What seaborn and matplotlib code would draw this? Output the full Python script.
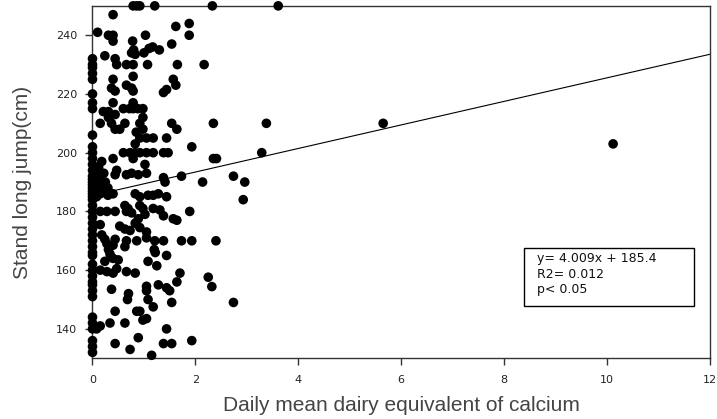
import matplotlib
matplotlib.use("Agg")
import matplotlib.pyplot as plt
import seaborn as sns
import numpy as np
import pandas as pd
from matplotlib.patches import Rectangle

# ---- data ----
zero_stack_y = [232, 230, 229, 227, 225, 220, 217, 215, 206, 202, 200, 198, 196, 194,
                192, 191, 190, 189, 188, 187, 186, 185, 184, 182, 180, 178, 176, 174,
                172, 170, 168, 166, 165, 162, 160, 158, 156, 155, 153, 151, 144, 142,
                140, 136, 134, 132]

other_x = [0.05, 0.08, 0.10, 0.12, 0.15, 0.18, 0.20, 0.25, 0.30, 0.08, 0.30, 0.12, 0.22,
           0.79, 0.86, 0.92, 1.21, 2.33, 3.61,
           0.40, 0.10, 0.31, 0.40, 0.40, 0.78, 1.03, 1.62, 1.88, 1.88, 1.54,
           1.17, 1.30, 1.00, 1.10,
           0.76, 0.80, 0.83, 0.24, 0.44, 0.47, 0.66, 0.79, 1.07, 1.65, 2.17,
           0.40, 0.37, 0.44, 0.66, 0.76, 0.79, 0.79, 1.57, 1.62, 1.38, 1.44,
           0.40, 0.31, 0.44, 0.60, 0.72, 0.79, 0.88, 0.98, 0.79, 0.79,
           0.15, 0.21, 0.31, 0.37, 0.44, 0.53, 0.63, 0.98, 0.92, 0.98, 0.85, 0.92, 1.18,
           1.05, 1.54, 1.64, 1.44, 2.35, 3.38,
           1.93, 0.83,
           0.60, 0.73, 0.83, 0.92, 1.05, 1.18, 1.38, 1.47,
           0.79, 1.02, 0.40, 0.18, 2.35, 2.41, 3.29,
           1.73, 1.38, 1.41, 0.47, 0.44, 0.66, 0.76, 0.89, 1.05, 2.74, 2.14, 2.96, 2.93,
           0.83, 0.92, 1.08, 1.18, 1.28, 1.44, 0.40,
           0.63, 0.69, 0.66, 0.76,
           0.92, 0.98, 1.02, 1.18, 1.31, 1.38,
           0.15, 0.28, 0.44,
           1.57, 1.64, 1.89,
           0.15, 0.53, 0.63, 0.73, 0.83, 0.89, 0.92, 1.05, 1.05,
           0.18, 0.24, 0.28, 0.31, 0.34, 0.40, 0.44,
           0.66, 0.63, 0.86, 1.21, 1.38, 1.73, 1.93, 2.40,
           1.20, 1.22, 1.44,
           0.24, 0.40, 0.50,
           1.08, 1.25,
           0.15, 0.28, 0.40, 0.47,
           0.66, 0.83, 1.70, 2.25, 2.32, 1.64,
           1.28, 1.44, 1.50,
           0.37, 0.70, 0.68,
           1.05, 1.05, 1.08, 1.18, 1.54, 2.74,
           0.44, 0.86, 0.92,
           0.98, 1.05,
           0.34, 0.63, 0.15, 0.08, 1.44,
           0.44, 0.89, 0.73, 1.15, 1.38, 1.54, 1.93,
           5.65, 10.12]

other_y = [193, 190, 188, 191, 186, 189, 187, 190, 188, 185, 185.5, 195, 193,
           250, 250, 250, 250, 250, 250,
           247, 241, 240, 240, 238, 238, 240, 243, 244, 240, 237,
           236, 235, 234, 235.5,
           234, 235, 233.5, 233, 232, 230, 230, 230, 230, 230, 230,
           225, 222, 221, 223, 222, 221, 226, 225, 223, 220.5, 221.5,
           217, 214, 213, 215, 215, 215, 215, 215, 217, 216,
           210, 214, 212, 210, 208, 208, 210, 212, 210, 208, 207, 205, 205,
           205, 210, 208, 205, 210, 210,
           202, 203,
           200, 200, 200, 200, 200, 200, 200, 200,
           198, 196, 198, 197, 198, 198, 200,
           192, 191.5, 190, 194, 192.5, 192.5, 193, 192.5, 193, 192, 190, 190, 184,
           186, 185, 185.5, 185.5, 186, 185, 186,
           182, 181, 180, 179.5,
           182, 181, 179, 181, 180.5, 178.5,
           180, 180, 180,
           177.5, 177, 180,
           175.5, 175, 174, 173.5, 176, 177.5, 174.5, 173, 171,
           172, 170.5, 169, 167, 165.5, 168.5, 170.5,
           170, 168, 170, 170, 170, 170, 170, 170,
           167, 166, 165,
           163, 164, 163.5,
           163, 161.5,
           160, 159.5, 159, 160.5,
           159.5, 159, 159, 157.6, 154.4, 156,
           155, 154, 153,
           153.5, 152, 150,
           154.5, 153, 150, 147.5, 149, 149,
           146, 146, 146,
           143, 143.5,
           142, 142, 141, 140, 140,
           135, 137, 133, 131, 135, 135, 136,
           210, 203]

fit_slope = 4.009
fit_intercept = 185.4
fit_x = [0, 12]
x_ticks = [0, 2, 4, 6, 8, 10, 12]
y_ticks = [140, 160, 180, 200, 220, 240]
stats_lines = ["y= 4.009x + 185.4", "R2= 0.012", "p< 0.05"]

dairy_x = [0.0] * len(zero_stack_y) + other_x
jump_y = zero_stack_y + other_y
df = pd.DataFrame({"dairy": dairy_x, "jump": jump_y})
fit_df = pd.DataFrame({"x": fit_x, "y": [fit_slope * v + fit_intercept for v in fit_x]})

# ---- plot ----
sns.set_theme(style="white")
plt.rcParams["font.family"] = ["Liberation Sans", "DejaVu Sans"]

fig = plt.figure(figsize=(7.17, 4.19), dpi=100)
ax = fig.add_axes([0.129, 0.145, 0.861, 0.841])

sns.scatterplot(data=df, x="dairy", y="jump", ax=ax, color="black", s=48,
                edgecolor="none", linewidth=0, clip_on=False, zorder=3)
sns.lineplot(data=fit_df, x="x", y="y", ax=ax, color="black", linewidth=0.8, zorder=2)

ax.set_xlim(0, 12)
ax.set_ylim(130, 250)
ax.set_xticks(x_ticks)
ax.set_yticks(y_ticks)
ax.set_xticklabels([str(t) for t in x_ticks], family="DejaVu Sans", fontsize=8, color="#222222")
ax.set_yticklabels([str(t) for t in y_ticks], family="DejaVu Sans", fontsize=8, color="#222222")
ax.tick_params(axis="both", which="both", direction="out", length=5, width=1,
               color="#333333", left=True, bottom=True, top=False, right=False)
ax.tick_params(axis="y", pad=6)
ax.tick_params(axis="x", pad=7)

for sp in ax.spines.values():
    sp.set_visible(True)
    sp.set_color("#333333")
    sp.set_linewidth(1.0)

ax.set_xlabel("Daily mean dairy equivalent of calcium", fontsize=15, color="#444444", labelpad=8)
ax.set_ylabel("Stand long jump(cm)", fontsize=15, color="#444444", labelpad=17)

rect = Rectangle((0.699, 0.148), 0.275, 0.165, transform=ax.transAxes,
                 fill=True, facecolor="white", edgecolor="black", linewidth=1.0, zorder=4)
ax.add_patch(rect)
ax.text(0.720, 0.238, "\n".join(stats_lines), transform=ax.transAxes,
        family="DejaVu Sans", fontsize=9, color="#111111", va="center", ha="left",
        linespacing=1.25, zorder=5)

fig.savefig("out.png", dpi=100)
